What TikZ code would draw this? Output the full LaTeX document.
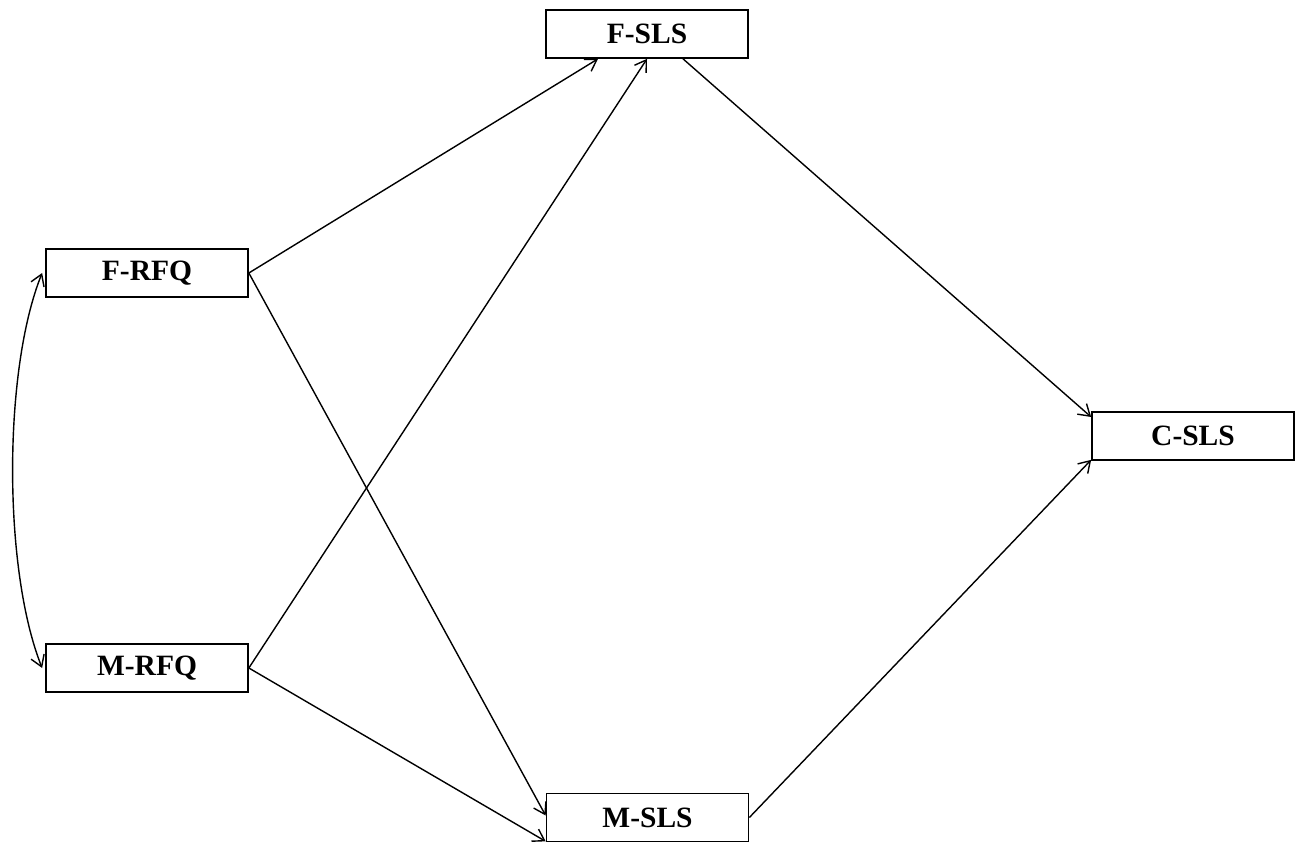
\documentclass[tikz,border=0pt]{standalone}
\usepackage{fontspec}
\setmainfont{Liberation Serif}
\usetikzlibrary{arrows.meta,calc}
\begin{document}
\begin{tikzpicture}[x=1pt,y=1pt,
  var/.style={draw, line width=1.7pt, minimum width=202pt, minimum height=48pt,
    inner sep=0pt, font=\fontsize{29.5}{34}\selectfont\bfseries},
  tip/.style={Straight Barb[length=11pt,width=14pt]},
  path/.style={line width=1.4pt, -{Straight Barb[length=11pt,width=14pt]}},
  cov/.style={line width=1.4pt, {Straight Barb[length=11pt,width=14pt]}-{Straight Barb[length=11pt,width=14pt]}}]
  \useasboundingbox (0,0) rectangle (1295,844);
  % variables (y measured upward from the bottom edge)
  \node[var] (fsls) at (647,810) {F-SLS};
  \node[var] (frfq) at (147,571) {F-RFQ};
  \node[var] (mrfq) at (147,176) {M-RFQ};
  \node[var] (msls) at (647.5,26.5) {M-SLS};
  \node[var] (csls) at (1193,408) {C-SLS};
  % directed paths
  \draw[path] (frfq.east) -- ([xshift=-49pt]fsls.south);
  \draw[path] (mrfq.east) -- (fsls.south);
  \draw[path] (frfq.east) -- ([yshift=2pt]msls.west);
  \draw[path] (mrfq.east) -- ([yshift=1pt]msls.south west);
  \draw[path] ([xshift=36pt]fsls.south) -- ([yshift=19pt]csls.west);
  \draw[path] (msls.east) -- ([yshift=1pt]csls.south west);
  % covariance between the two RFQ variables
  \draw[cov] ([xshift=-3pt]frfq.west) .. controls (3,474) and (3,274) .. ([xshift=-3pt]mrfq.west);
\end{tikzpicture}
\end{document}
